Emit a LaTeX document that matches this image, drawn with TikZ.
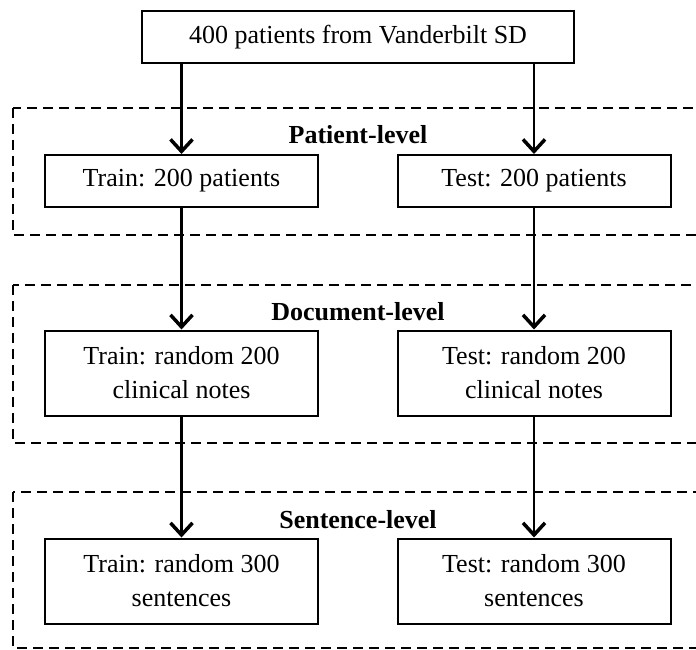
\documentclass[tikz,border=0pt]{standalone}
\usepackage{fontspec}
\setmainfont{Liberation Serif}
\usetikzlibrary{arrows.meta}
\begin{document}
\begin{tikzpicture}[x=1pt,y=-1pt,
  every node/.style={font=\fontsize{26}{34}\selectfont},
  box/.style={draw, line width=2pt, minimum width=273pt, align=center, inner sep=0pt},
  onebox/.style={box, minimum height=52pt},
  twobox/.style={box, minimum height=85pt},
  group/.style={draw, dashed, line width=2pt, dash pattern=on 10pt off 6pt},
  grouplabel/.style={font=\fontsize{26}{30}\selectfont\bfseries},
  flow/.style={line width=2.5pt, -{Straight Barb[length=12pt,width=22pt,line width=3.5pt]}}
]
\clip (0,0) rectangle (696,650);
\fill[white] (0,0) rectangle (696,650);

% group frames
\draw[group] (13,108) rectangle (730,235);
\draw[group] (13,285) rectangle (730,443);
\draw[group] (13,492) rectangle (730,648);

\node[grouplabel] (lp) at (358,135) {Patient-level};
\node[grouplabel] (ld) at (358,312) {Document-level};
\node[grouplabel] (ls) at (358,520) {Sentence-level};

\node[onebox, minimum width=432pt] (top) at (358,37) {400 patients from Vanderbilt SD};

\node[onebox] (ptrain) at (181.5,181) {Train: 200 patients};
\node[onebox] (ptest) at (534,181) {Test: 200 patients};

\node[twobox] (dtrain) at (181.5,373) {Train: random 200\\clinical notes};
\node[twobox] (dtest) at (534,373) {Test: random 200\\clinical notes};

\node[twobox] (strain) at (181.5,581) {Train: random 300\\sentences};
\node[twobox] (stest) at (534,581) {Test: random 300\\sentences};

\draw[flow] (top.south -| ptrain) -- (ptrain.north);
\draw[flow] (top.south -| ptest) -- (ptest.north);
\draw[flow] (ptrain) -- (dtrain);
\draw[flow] (ptest) -- (dtest);
\draw[flow] (dtrain) -- (strain);
\draw[flow] (dtest) -- (stest);
\end{tikzpicture}
\end{document}
